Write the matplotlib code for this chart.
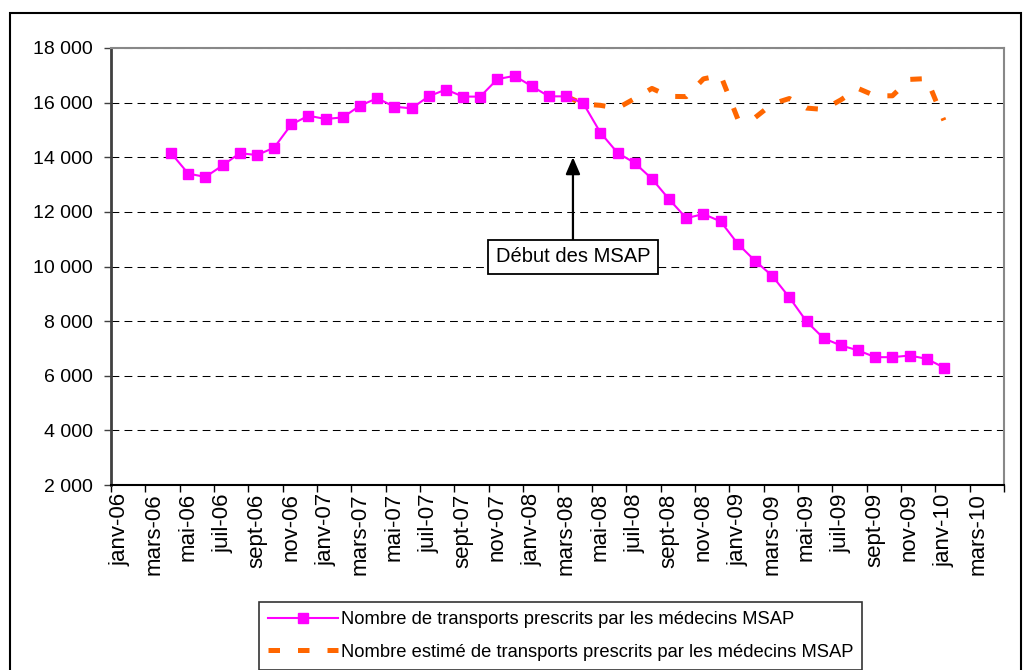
import numpy as np
import matplotlib
matplotlib.use('Agg')
import matplotlib.pyplot as plt
from matplotlib.patches import Rectangle

plt.rcParams['font.family'] = ['Liberation Sans', 'DejaVu Sans']

# Categories: monthly, janv-06 .. avr-10 (52 months)
month_names = ['janv', 'févr', 'mars', 'avr', 'mai', 'juin',
               'juil', 'août', 'sept', 'oct', 'nov', 'déc']
years = ['06', '07', '08', '09', '10']
categories = [m + '-' + y for y in years for m in month_names][:52]

# Observed series: avr-06 .. janv-10
observed_start = 3
observed = [14150, 13400, 13280, 13700, 14150, 14080, 14350, 15200, 15520,
            15400, 15460, 15890, 16160, 15850, 15790, 16230, 16480, 16220,
            16220, 16860, 16980, 16600, 16230, 16230, 15975, 14900, 14160,
            13790, 13210, 12460, 11770, 11920, 11650, 10830, 10210, 9660,
            8870, 7990, 7370, 7110, 6930, 6680, 6680, 6740, 6620, 6300]

# Estimated series: mars-08 .. janv-10
estimated_start = 26
estimated = [16230, 15950, 15900, 15800, 16150, 16520, 16230, 16220, 16870,
             17000, 15400, 15450, 15950, 16150, 15800, 15750, 16100, 16520,
             16250, 16250, 16850, 16880, 15350]

label_obs = 'Nombre de transports prescrits par les médecins MSAP'
label_est = 'Nombre estimé de transports prescrits par les médecins MSAP'

fig = plt.figure(figsize=(10.25, 6.7), dpi=100)
ax = fig.add_axes([111 / 1025, 1 - 485 / 670, (1004 - 111) / 1025, (485 - 48) / 670])

x_obs = np.arange(observed_start, observed_start + len(observed))
x_est = np.arange(estimated_start, estimated_start + len(estimated))

ax.plot(x_est, estimated, color='#FF6600', lw=3.6, linestyle=(0, (2.3, 3.6)),
        dash_capstyle='butt', label=label_est, zorder=3)
ax.plot(x_obs, observed, color='#FF00FF', lw=1.5, marker='s', markersize=7,
        markeredgecolor='#FF00FF', label=label_obs, zorder=4)

ax.set_xlim(-0.5, len(categories) - 0.5)
ax.set_ylim(2000, 18000)

# y axis
yticks = np.arange(2000, 18001, 2000)
ax.set_yticks(yticks)
ax.set_yticklabels(['{:,}'.format(v).replace(',', ' ') for v in yticks], fontsize=14)
ax.yaxis.grid(True, color='black', linestyle=(0, (7.5, 5)), lw=0.75, zorder=1)
ax.set_axisbelow(True)

# x axis: ticks between categories, labels every two months
ax.set_xticks(np.arange(-0.5, len(categories), 2))
ax.set_xticklabels([])
ax.set_xticks(np.arange(0, len(categories) - 1, 2), minor=True)
ax.set_xticklabels(categories[0:len(categories) - 1:2], minor=True,
                   rotation=90, fontsize=16)
ax.tick_params(axis='x', which='minor', length=0, pad=6)
ax.tick_params(axis='x', which='major', length=5, width=1, color='black')
ax.tick_params(axis='y', length=5, width=1, color='#404040', pad=8)

for side in ['top', 'right']:
    ax.spines[side].set_color('#888888')
    ax.spines[side].set_linewidth(1.5)
ax.spines['left'].set_color('#404040')
ax.spines['left'].set_linewidth(2)
ax.spines['bottom'].set_color('black')
ax.spines['bottom'].set_linewidth(1.5)

# annotation
ax.annotate('Début des MSAP', xy=(26.4, 14000), xytext=(26.4, 10350),
            ha='center', va='center', fontsize=14.5,
            bbox=dict(boxstyle='square,pad=0.38', fc='white', ec='black', lw=1.3),
            arrowprops=dict(arrowstyle='-|>,head_length=0.7,head_width=0.3',
                            color='black', lw=1.6, shrinkA=0, shrinkB=0),
            zorder=5)

# legend
handles, labels = ax.get_legend_handles_labels()
leg = fig.legend(handles[::-1], labels[::-1], loc='upper left',
                 bbox_to_anchor=(259 / 1025, 1 - 602 / 670), fontsize=13.2,
                 frameon=True, fancybox=False, edgecolor='black',
                 handlelength=3.8, handletextpad=0.15, borderpad=0.5,
                 labelspacing=0.85, borderaxespad=0)
leg.get_frame().set_linewidth(1.2)

# outer chart border
fig.add_artist(Rectangle((10 / 1025, -0.05), (1021 - 10) / 1025, 1.05 - 13 / 670,
                         transform=fig.transFigure, fill=False, ec='black',
                         lw=1.5, clip_on=False))

fig.savefig('out.png', dpi=100)
